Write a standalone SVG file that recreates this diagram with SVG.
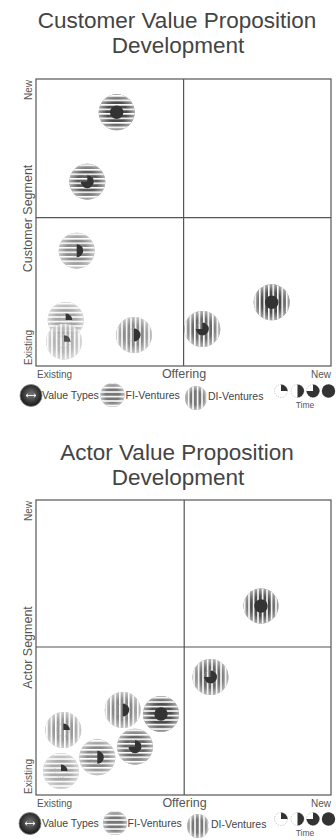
<svg xmlns="http://www.w3.org/2000/svg" xmlns:xlink="http://www.w3.org/1999/xlink" width="336" height="840" viewBox="0 0 336 840">
<style>
.title{font-family:"Liberation Sans",Arial,sans-serif;font-size:22.5px;fill:#444;text-anchor:middle}
.ax{font-family:"Liberation Sans",Arial,sans-serif;font-size:10px;fill:#555}
.axb{font-family:"Liberation Sans",Arial,sans-serif;font-size:12.5px;fill:#555}
.lg{font-family:"Liberation Sans",Arial,sans-serif;font-size:10.5px;fill:#444}
.tm{font-family:"Liberation Sans",Arial,sans-serif;font-size:8.5px;fill:#555;text-anchor:middle}
.frame{fill:none;stroke:#555;stroke-width:1.2}
.pie{fill:#333}
.dash{fill:none;stroke:#aaa;stroke-width:0.7;stroke-dasharray:1.2 1.2}
</style>
<defs>
<pattern id="hs" patternUnits="userSpaceOnUse" width="40" height="4.5" y="0.75">
<rect x="0" y="0" width="40" height="1.6" fill="#fff"/>
</pattern>
<pattern id="vs" patternUnits="userSpaceOnUse" width="4.5" height="40" x="0.75">
<rect x="0" y="0" width="1.6" height="40" fill="#fff"/>
</pattern>
<radialGradient id="fade" cx="0.5" cy="0.5" r="0.5">
<stop offset="0.55" stop-color="#fff" stop-opacity="0"/>
<stop offset="1" stop-color="#fff" stop-opacity="0.5"/>
</radialGradient>
<radialGradient id="vt" cx="0.5" cy="0.45" r="0.5">
<stop offset="0" stop-color="#777"/>
<stop offset="1" stop-color="#1e1e1e"/>
</radialGradient>
<g id="pq"><circle r="6.5" class="dash"/><path class="pie" d="M0,0 V-6.5 A6.5,6.5 0 0 1 6.5,0 Z"/></g>
<g id="ph"><circle r="6.5" class="dash"/><path class="pie" d="M0,-6.5 A6.5,6.5 0 0 1 0,6.5 Z"/></g>
<g id="p3"><circle r="6.5" class="dash"/><path class="pie" d="M0,0 V-6.5 A6.5,6.5 0 1 1 -6.5,0 Z"/></g>
<g id="pf"><circle r="6.7" class="pie"/></g>
</defs>
<rect width="336" height="840" fill="#fff"/>

<!-- ===== Top chart ===== -->
<g id="title1">
<text class="title" x="177" y="28">Customer Value Proposition</text>
<text class="title" x="178" y="53">Development</text>
</g>
<g id="frame1">
<rect class="frame" x="36" y="79" width="295" height="287"/>
<line class="frame" x1="183.6" y1="79" x2="183.6" y2="366"/>
<line class="frame" x1="36" y1="217.7" x2="331" y2="217.7"/>
</g>
<g id="axes1">
<text class="ax" transform="translate(32,80) rotate(-90)" text-anchor="end">New</text>
<text class="axb" transform="translate(32,218.5) rotate(-90)" text-anchor="middle">Customer Segment</text>
<text class="ax" transform="translate(32,365) rotate(-90)">Existing</text>
<text class="ax" x="37" y="378">Existing</text>
<text class="axb" x="184" y="378" text-anchor="middle">Offering</text>
<text class="ax" x="331" y="378" text-anchor="end">New</text>
</g>
<g id="t1">
<g id="t1b1" transform="translate(116.7,112.3)"><circle r="18" fill="#4d4d4d"/><circle r="18" fill="url(#hs)"/><circle r="18" fill="url(#fade)"/><use href="#pf"/></g>
<g id="t1b2" transform="translate(87.3,181.7)"><circle r="18" fill="#5c5c5c"/><circle r="18" fill="url(#hs)"/><circle r="18" fill="url(#fade)"/><use href="#p3"/></g>
<g id="t1b3" transform="translate(76.7,250.7)"><circle r="18" fill="#8a8a8a"/><circle r="18" fill="url(#hs)"/><circle r="18" fill="url(#fade)"/><use href="#ph"/></g>
<g id="t1b4" transform="translate(65.7,320)"><circle r="18" fill="#a8a8a8"/><circle r="18" fill="url(#hs)"/><circle r="18" fill="url(#fade)"/><use href="#pq"/></g>
<g id="t1b5" transform="translate(64,341.7)" opacity="0.85"><circle r="18" fill="#a8a8a8"/><circle r="18" fill="url(#vs)"/><circle r="18" fill="url(#fade)"/><use href="#pq"/></g>
<g id="t1b6" transform="translate(134,335)"><circle r="18" fill="#8a8a8a"/><circle r="18" fill="url(#vs)"/><circle r="18" fill="url(#fade)"/><use href="#ph"/></g>
<g id="t1b7" transform="translate(202.3,329)"><circle r="18" fill="#6a6a6a"/><circle r="18" fill="url(#vs)"/><circle r="18" fill="url(#fade)"/><use href="#p3"/></g>
<g id="t1b8" transform="translate(271.7,302.3)"><circle r="18" fill="#4d4d4d"/><circle r="18" fill="url(#vs)"/><circle r="18" fill="url(#fade)"/><use href="#pf"/></g>
</g>
<g id="legend1">
<g id="lg1vt" transform="translate(31,395.5)"><circle r="11" fill="url(#vt)" stroke="#888" stroke-width="0.8"/><path d="M-5,0 H5 M-5,0 l2.2,-1.8 M-5,0 l2.2,1.8 M5,0 l-2.2,-1.8 M5,0 l-2.2,1.8" stroke="#fff" stroke-width="0.9" fill="none"/></g>
<text class="lg" x="42" y="399">Value Types</text>
<g id="lg1fi" transform="translate(112.5,395)"><circle r="12" fill="#777"/><circle r="12" fill="url(#hs)"/><circle r="12" fill="url(#fade)"/></g>
<text class="lg" x="125.5" y="399">FI-Ventures</text>
<g id="lg1di" transform="translate(196,398)"><ellipse rx="11" ry="12" fill="#777"/><ellipse rx="11" ry="12" fill="url(#vs)"/><ellipse rx="11" ry="12" fill="url(#fade)"/></g>
<text class="lg" x="208" y="400">DI-Ventures</text>
<g transform="translate(281,391)"><use href="#pq"/></g>
<g transform="translate(297.5,391)"><use href="#ph"/></g>
<g transform="translate(313,391)"><use href="#p3"/></g>
<g transform="translate(328.5,391)"><use href="#pf"/></g>
<text class="tm" x="305" y="408">Time</text>
</g>

<!-- ===== Bottom chart ===== -->
<g id="title2">
<text class="title" x="177" y="460">Actor Value Proposition</text>
<text class="title" x="178" y="485">Development</text>
</g>
<g id="frame2">
<rect class="frame" x="36" y="500" width="295" height="295"/>
<line class="frame" x1="184.2" y1="500" x2="184.2" y2="795"/>
<line class="frame" x1="36" y1="647" x2="331" y2="647"/>
</g>
<g id="axes2">
<text class="ax" transform="translate(32,501) rotate(-90)" text-anchor="end">New</text>
<text class="axb" transform="translate(32,647.5) rotate(-90)" text-anchor="middle">Actor Segment</text>
<text class="ax" transform="translate(32,794) rotate(-90)">Existing</text>
<text class="ax" x="37" y="807">Existing</text>
<text class="axb" x="184.5" y="807" text-anchor="middle">Offering</text>
<text class="ax" x="331" y="807" text-anchor="end">New</text>
</g>
<g id="t2">
<g id="t2b1" transform="translate(261,606)"><circle r="17.5" fill="#4d4d4d"/><circle r="17.5" fill="url(#vs)"/><circle r="17.5" fill="url(#fade)"/><use href="#pf"/></g>
<g id="t2b2" transform="translate(210.5,677)"><circle r="18" fill="#6a6a6a"/><circle r="18" fill="url(#vs)"/><circle r="18" fill="url(#fade)"/><use href="#p3"/></g>
<g id="t2b3" transform="translate(63.3,730)"><circle r="18" fill="#999"/><circle r="18" fill="url(#vs)"/><circle r="18" fill="url(#fade)"/><use href="#pq"/></g>
<g id="t2b4" transform="translate(61,771)"><circle r="18" fill="#aaa"/><circle r="18" fill="url(#hs)"/><circle r="18" fill="url(#fade)"/><use href="#pq"/></g>
<g id="t2b5" transform="translate(97.3,757.3)"><circle r="18" fill="#888"/><circle r="18" fill="url(#hs)"/><circle r="18" fill="url(#fade)"/><use href="#ph"/></g>
<g id="t2b6" transform="translate(122.7,710)"><circle r="18" fill="#888"/><circle r="18" fill="url(#vs)"/><circle r="18" fill="url(#fade)"/><use href="#ph"/></g>
<g id="t2b7" transform="translate(135,746.7)"><circle r="18" fill="#666"/><circle r="18" fill="url(#hs)"/><circle r="18" fill="url(#fade)"/><use href="#p3"/></g>
<g id="t2b8" transform="translate(161,714)"><circle r="18" fill="#4d4d4d"/><circle r="18" fill="url(#hs)"/><circle r="18" fill="url(#fade)"/><use href="#pf"/></g>
</g>
<g id="legend2">
<g id="lg2vt" transform="translate(30,823.5)"><circle r="11" fill="url(#vt)" stroke="#888" stroke-width="0.8"/><path d="M-5,0 H5 M-5,0 l2.2,-1.8 M-5,0 l2.2,1.8 M5,0 l-2.2,-1.8 M5,0 l-2.2,1.8" stroke="#fff" stroke-width="0.9" fill="none"/></g>
<text class="lg" x="42" y="827">Value Types</text>
<g id="lg2fi" transform="translate(115,823)"><circle r="12" fill="#777"/><circle r="12" fill="url(#hs)"/><circle r="12" fill="url(#fade)"/></g>
<text class="lg" x="127.5" y="827">FI-Ventures</text>
<g id="lg2di" transform="translate(198,826)"><ellipse rx="11" ry="12" fill="#777"/><ellipse rx="11" ry="12" fill="url(#vs)"/><ellipse rx="11" ry="12" fill="url(#fade)"/></g>
<text class="lg" x="211" y="828">DI-Ventures</text>
<g transform="translate(281,819)"><use href="#pq"/></g>
<g transform="translate(297.5,819)"><use href="#ph"/></g>
<g transform="translate(313,819)"><use href="#p3"/></g>
<g transform="translate(328.5,819)"><use href="#pf"/></g>
<text class="tm" x="305" y="836">Time</text>
</g>
</svg>
